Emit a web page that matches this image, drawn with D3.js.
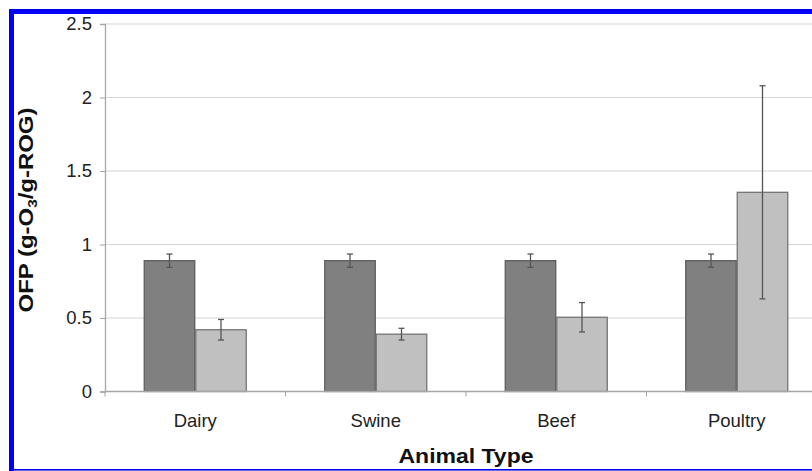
<!DOCTYPE html>
<html>
<head>
<meta charset="utf-8">
<script src="https://cdn.jsdelivr.net/npm/d3@7"></script>
<style>
  html, body { margin: 0; padding: 0; background: #fff; }
  svg { display: block; font-family: "Liberation Sans", Arial, sans-serif; }
</style>
</head>
<body>
<svg id="chart" width="812" height="471"></svg>
<script>
// Ozone-forming potential by animal type, two series per group
const categories = ["Dairy", "Swine", "Beef", "Poultry"];
const seriesNames = ["A", "B"];
const seriesA = [0.89, 0.89, 0.89, 0.89];
const errorA = [0.045, 0.045, 0.045, 0.045];
const seriesB = [0.42, 0.39, 0.505, 1.355];
const errorB = [0.07, 0.04, 0.10, 0.725];
const yTicks = [0, 0.5, 1, 1.5, 2, 2.5];
const yTickLabels = ["0", "0.5", "1", "1.5", "2", "2.5"];

const svg = d3.select("#chart");
const W = 812, H = 471;

const plot = { left: 105, right: 827, top: 24, bottom: 391.5 };

const x0 = d3.scaleBand().domain(categories).range([plot.left, plot.right]).padding(0);
const groupWidth = 103;
const x1 = d3.scaleBand().domain(seriesNames).range([0, groupWidth]).padding(0);
const y = d3.scaleLinear().domain([0, 2.5]).range([plot.bottom, plot.top]);

const colors = { A: "#808080", B: "#c0c0c0" };
const strokes = { A: "#5e5e5e", B: "#747474" };

// gridlines
svg.append("g")
  .selectAll("line")
  .data(yTicks.filter(d => d > 0))
  .join("line")
  .attr("x1", plot.left).attr("x2", plot.right)
  .attr("y1", d => y(d)).attr("y2", d => y(d))
  .attr("stroke", "#d6d6d6").attr("stroke-width", 1.2);

// y axis
const yAxis = d3.axisLeft(y).tickValues(yTicks).tickSize(5).tickPadding(8)
  .tickFormat((d, i) => yTickLabels[i]);
const gy = svg.append("g").attr("transform", `translate(${plot.left},0)`).call(yAxis);
gy.select(".domain").attr("stroke", "#a6a6a6").attr("stroke-width", 1.3);
gy.selectAll(".tick line").attr("stroke", "#a6a6a6");
gy.selectAll(".tick text").attr("font-size", 18.5).attr("fill", "#222")
  .attr("font-family", "Liberation Sans, Arial, sans-serif");

// bars
const rows = categories.map((c, i) => ({
  cat: c,
  vals: [
    { key: "A", v: seriesA[i], e: errorA[i] },
    { key: "B", v: seriesB[i], e: errorB[i] }
  ]
}));

const groups = svg.append("g").selectAll("g")
  .data(rows)
  .join("g")
  .attr("transform", d => `translate(${x0(d.cat) + (x0.bandwidth() - groupWidth) / 2},0)`);

groups.selectAll("rect")
  .data(d => d.vals)
  .join("rect")
  .attr("x", d => x1(d.key) + 0.5)
  .attr("width", x1.bandwidth() - 1)
  .attr("y", d => y(d.v))
  .attr("height", d => y(0) - y(d.v))
  .attr("fill", d => colors[d.key])
  .attr("stroke", d => strokes[d.key])
  .attr("stroke-width", 1.3);

// error bars
const eb = groups.selectAll("g.err")
  .data(d => d.vals)
  .join("g").attr("class", "err");
eb.append("line")
  .attr("x1", d => x1(d.key) + x1.bandwidth() / 2)
  .attr("x2", d => x1(d.key) + x1.bandwidth() / 2)
  .attr("y1", d => y(d.v + d.e))
  .attr("y2", d => y(d.v - d.e))
  .attr("stroke", "#555").attr("stroke-width", 1.3);
eb.selectAll("line.cap")
  .data(d => [d.v + d.e, d.v - d.e].map(t => ({ key: d.key, t })))
  .join("line").attr("class", "cap")
  .attr("x1", d => x1(d.key) + x1.bandwidth() / 2 - 3)
  .attr("x2", d => x1(d.key) + x1.bandwidth() / 2 + 3)
  .attr("y1", d => y(d.t)).attr("y2", d => y(d.t))
  .attr("stroke", "#555").attr("stroke-width", 1.3);

// x axis
const xAxisLine = svg.append("g");
xAxisLine.append("line")
  .attr("x1", plot.left).attr("x2", plot.right)
  .attr("y1", plot.bottom).attr("y2", plot.bottom)
  .attr("stroke", "#a6a6a6").attr("stroke-width", 1.3);
xAxisLine.selectAll("line.tk")
  .data(categories.concat(["end"]))
  .join("line").attr("class", "tk")
  .attr("x1", (d, i) => plot.left + i * x0.step())
  .attr("x2", (d, i) => plot.left + i * x0.step())
  .attr("y1", plot.bottom).attr("y2", plot.bottom + 5)
  .attr("stroke", "#a6a6a6");
xAxisLine.selectAll("text")
  .data(categories)
  .join("text")
  .attr("x", d => x0(d) + x0.bandwidth() / 2)
  .attr("y", 427)
  .attr("text-anchor", "middle")
  .attr("font-size", 18.5)
  .attr("fill", "#222")
  .text(d => d);

// axis titles
svg.append("text")
  .attr("x", (plot.left + plot.right) / 2)
  .attr("y", 463)
  .attr("text-anchor", "middle")
  .attr("font-size", 21)
  .attr("font-weight", "bold")
  .attr("fill", "#111")
  .attr("textLength", 135)
  .attr("lengthAdjust", "spacingAndGlyphs")
  .text("Animal Type");

const yTitle = svg.append("text")
  .attr("transform", "translate(33,210) rotate(-90)")
  .attr("text-anchor", "middle")
  .attr("font-size", 20.5)
  .attr("font-weight", "bold")
  .attr("fill", "#111")
  .attr("textLength", 205)
  .attr("lengthAdjust", "spacingAndGlyphs");
yTitle.append("tspan").text("OFP (g-O");
yTitle.append("tspan").attr("font-size", 13).attr("dy", 4).text("3");
yTitle.append("tspan").attr("dy", -4).text("/g-ROG)");

// blue frame
svg.append("rect").attr("x", 9).attr("y", 9).attr("width", W - 9).attr("height", 5).attr("fill", "#0000f5");
svg.append("rect").attr("x", 9).attr("y", 9).attr("width", 5).attr("height", H - 9).attr("fill", "#0000f5");
svg.append("rect").attr("x", 9).attr("y", 469).attr("width", W - 9).attr("height", 1.6).attr("fill", "#0000f5");
</script>
</body>
</html>
